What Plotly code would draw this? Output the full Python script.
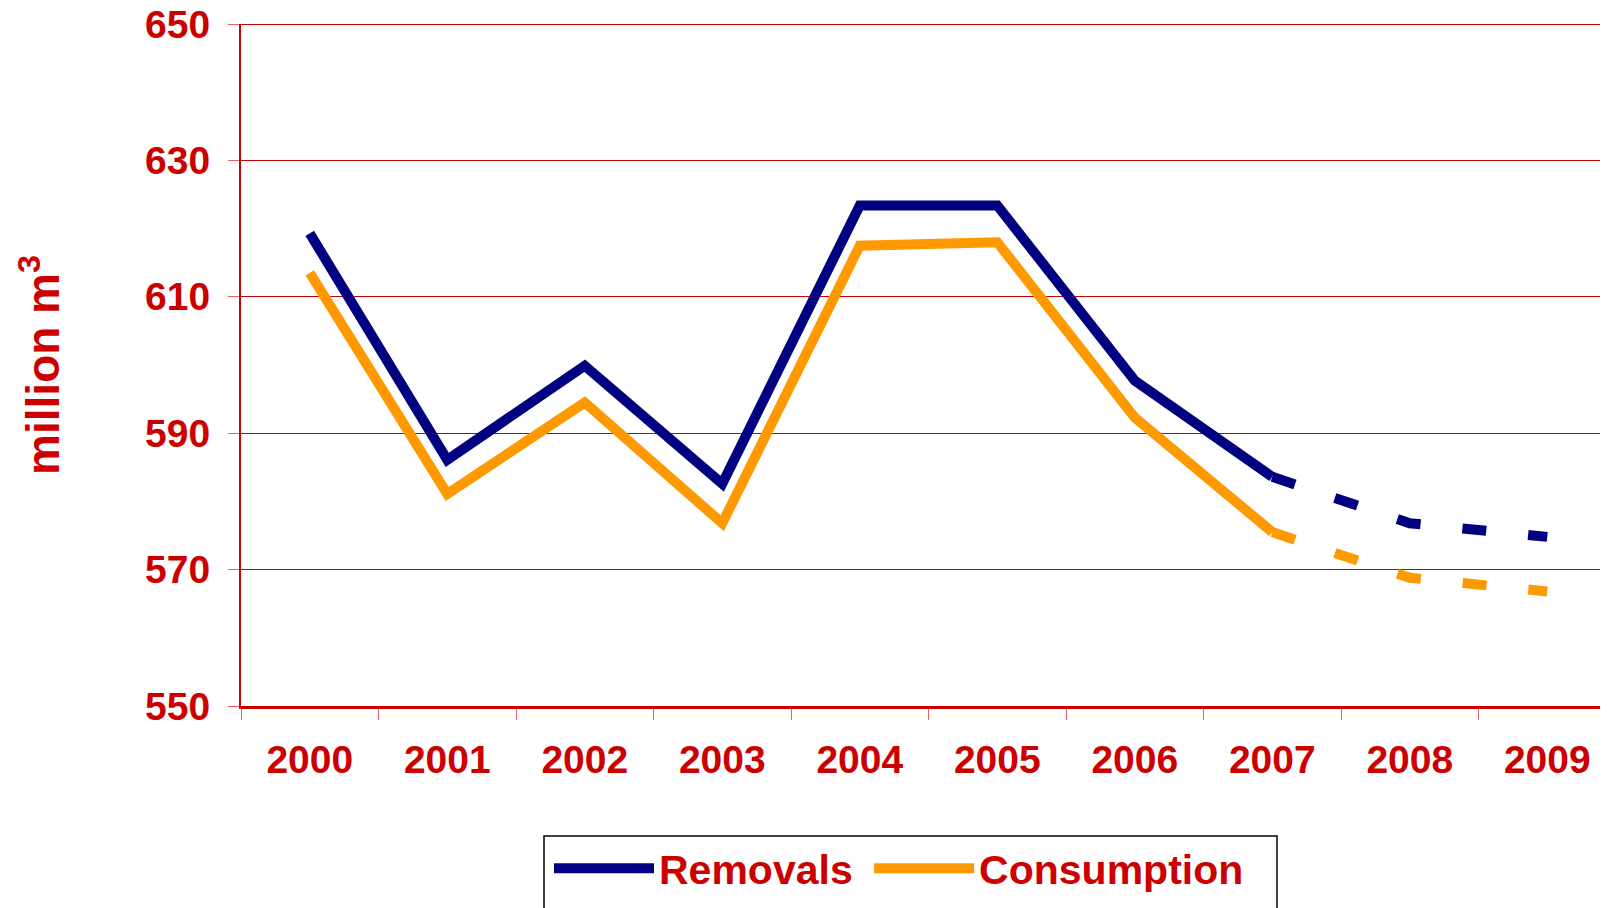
import plotly.graph_objects as go

years = ["2000", "2001", "2002", "2003", "2004", "2005", "2006", "2007", "2008", "2009"]
removals = [619.3, 586.1, 599.9, 582.6, 623.4, 623.4, 597.7, 583.6, 576.8, 574.8]
consumption = [613.5, 581.1, 594.5, 576.8, 617.5, 618.0, 592.3, 575.5, 568.8, 566.8]
y_ticks = [550, 570, 590, 610, 630, 650]
n_actual = 8  # 2000-2007 actual, 2007-2009 forecast (dashed)

RED = "#CC0000"
NAVY = "#000080"
ORANGE = "#FF9900"
FONT = "Liberation Sans, Arial, sans-serif"

fig = go.Figure()
fig.add_trace(go.Scatter(x=years[:n_actual], y=removals[:n_actual], mode="lines",
                         name="Removals\u00a0", legendgroup="r",
                         line=dict(color=NAVY, width=10)))
fig.add_trace(go.Scatter(x=years[n_actual - 1:], y=removals[n_actual - 1:], mode="lines",
                         name="Removals", legendgroup="r", showlegend=False,
                         line=dict(color=NAVY, width=10, dash="24px,42px")))
fig.add_trace(go.Scatter(x=years[:n_actual], y=consumption[:n_actual], mode="lines",
                         name="Consumption", legendgroup="c",
                         line=dict(color=ORANGE, width=10)))
fig.add_trace(go.Scatter(x=years[n_actual - 1:], y=consumption[n_actual - 1:], mode="lines",
                         name="Consumption", legendgroup="c", showlegend=False,
                         line=dict(color=ORANGE, width=10, dash="24px,42px")))

OFF = 8  # page body margin
W, H = 1600, 900
L, T, B = 233, 16, 202
plot_w = W - L
plot_h = H - T - B
plot_bottom = H - B
cat_w = 137.5
x_hi = -0.5 + plot_w / cat_w


def px_x(sx):
    return (sx - OFF - L) / plot_w


def px_y(sy):
    return (plot_bottom - (sy - OFF)) / plot_h


fig.update_layout(
    width=W, height=H,
    margin=dict(l=L, r=0, t=T, b=B, pad=0),
    paper_bgcolor="white", plot_bgcolor="white",
    font=dict(family=FONT, color=RED),
    showlegend=True,
    legend=dict(orientation="h", x=px_x(549), xanchor="left",
                y=px_y(835), yanchor="top",
                font=dict(size=41, family=FONT, color=RED, weight="bold"),
                itemwidth=100,
                bgcolor="rgba(0,0,0,0)", borderwidth=0),
    xaxis=dict(type="category", categoryorder="array", categoryarray=years,
               range=[-0.5, x_hi], tickson="boundaries", automargin=False,
               ticks="outside", ticklen=11, tickwidth=1, tickcolor="#E06060",
               showline=True, linecolor=RED, linewidth=3,
               showgrid=False, zeroline=False, ticklabelstandoff=17,
               tickfont=dict(size=39, family=FONT, color=RED, weight="bold")),
    yaxis=dict(range=[550, 650], tickvals=y_ticks, ticktext=[str(v) for v in y_ticks],
               ticks="outside", ticklen=11, tickwidth=1, tickcolor="#E06060",
               showline=True, linecolor=RED, linewidth=2, automargin=False,
               showgrid=True, gridcolor=RED, gridwidth=1, zeroline=False,
               ticklabelstandoff=10, ticklabeloverflow="allow",
               tickfont=dict(size=39, family=FONT, color=RED, weight="bold")),
    shapes=[
        dict(type="line", xref="paper", yref="y", x0=0, x1=1, y0=650, y1=650,
             line=dict(color=RED, width=2)),
        dict(type="rect", xref="paper", yref="paper",
             x0=px_x(544), x1=px_x(1277), y0=px_y(836), y1=px_y(960),
             line=dict(color="black", width=1.5), fillcolor="rgba(0,0,0,0)", layer="below"),
    ],
)
fig.update_yaxes(title=dict(text="million m<sup>3</sup>", standoff=71,
                            font=dict(size=46, family=FONT, color=RED, weight="bold")))

fig.write_html("out.html")
